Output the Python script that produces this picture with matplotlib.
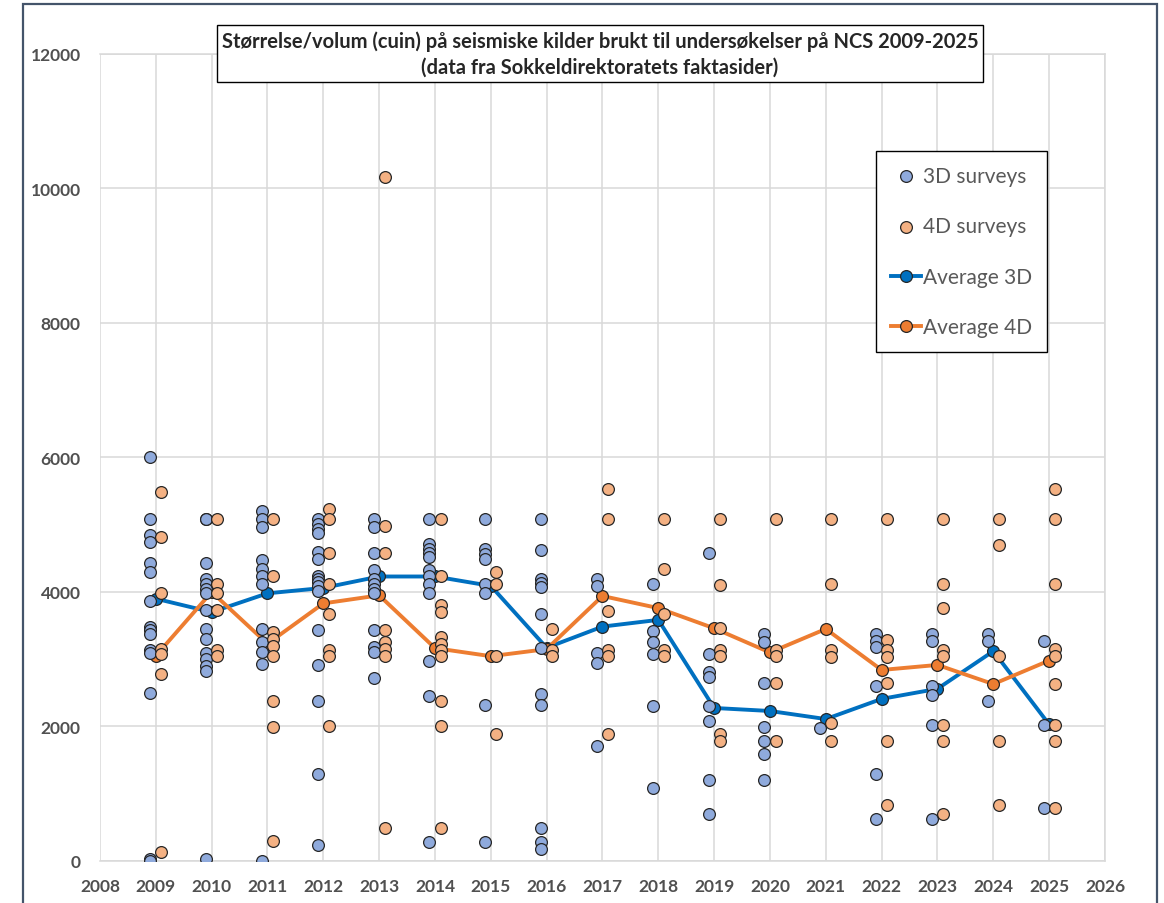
import numpy as np
import matplotlib.pyplot as plt
from matplotlib.patches import Rectangle

# -----------------------------------------------------------------------------
# data (cuin)

years = list(range(2009, 2026))

vol_3d = [
	[6000, 5080, 4840, 4740, 4430, 4300, 3860, 3480, 3430, 3380, 3140, 3090, 2500, 30, 0],        # 2009
	[5080, 5080, 4430, 4190, 4120, 4045, 3985, 3730, 3450, 3300, 3090, 3000, 2900, 2820, 30],    # 2010
	[5210, 5085, 4960, 4470, 4340, 4240, 4120, 3450, 3250, 3100, 2930, 0],                       # 2011
	[5085, 5010, 4940, 4870, 4590, 4490, 4240, 4190, 4145, 4095, 4020, 3440, 2920, 2385, 1295, 240],  # 2012
	[5085, 4960, 4580, 4330, 4190, 4120, 4045, 3985, 3440, 3180, 3100, 2720],                    # 2013
	[5085, 4715, 4640, 4575, 4515, 4330, 4240, 4120, 3985, 2980, 2460, 280],                     # 2014
	[5085, 4640, 4565, 4490, 4120, 3985, 2320, 280],                                             # 2015
	[5085, 4625, 4190, 4130, 4070, 3675, 3165, 2485, 2320, 490, 280, 180],                       # 2016
	[4190, 4095, 3090, 2945, 1705],                                                              # 2017
	[4120, 3415, 3250, 3080, 2310, 1080],                                                        # 2018
	[4580, 3080, 2815, 2730, 2310, 2080, 1200, 700],                                             # 2019
	[3375, 3260, 2640, 1990, 1790, 1590, 1200],                                                  # 2020
	[1980],                                                                                      # 2021
	[3375, 3275, 3180, 2605, 1295, 625],                                                         # 2022
	[3375, 3265, 2605, 2475, 2025, 625],                                                         # 2023
	[3375, 3265, 2385],                                                                          # 2024
	[3265, 2025, 790],                                                                           # 2025
]

vol_4d = [
	[5480, 4810, 3980, 3150, 3080, 2780, 140],                  # 2009
	[5080, 4120, 3980, 3730, 3140, 3050],                       # 2010
	[5080, 4230, 3400, 3300, 3200, 3045, 2385, 1990, 300],      # 2011
	[5235, 5080, 4580, 4120, 3675, 3140, 3045, 2000],           # 2012
	[10170, 4985, 4580, 3440, 3250, 3150, 3045, 490],           # 2013
	[5080, 4230, 3800, 3700, 3325, 3225, 3130, 3045, 2385, 2000, 490],  # 2014
	[4295, 4120, 3045, 1890],                                   # 2015
	[3450, 3140, 3045],                                         # 2016
	[5530, 5080, 3710, 3140, 3045, 1890],                       # 2017
	[5080, 4340, 3675, 3140, 3045],                             # 2018
	[5080, 4110, 3460, 3140, 3045, 1890, 1780],                 # 2019
	[5080, 3140, 3045, 2640, 1780],                             # 2020
	[5080, 4120, 3140, 3030, 2045, 1780],                       # 2021
	[5080, 3285, 3130, 3030, 2640, 1780, 835],                  # 2022
	[5080, 4120, 3760, 3140, 3045, 2025, 1780, 700],            # 2023
	[5080, 4700, 3045, 1780, 835],                              # 2024
	[5530, 5080, 4120, 3150, 3045, 2630, 2025, 1780, 790],      # 2025
]

avg_3d = [3900, 3700, 3980, 4060, 4230, 4230, 4090, 3170, 3485, 3585,
          2275, 2230, 2110, 2410, 2560, 3120, 2030]
avg_4d = [3050, 4000, 3230, 3830, 3950, 3165, 3045, 3150, 3940, 3760,
          3460, 3100, 3450, 2840, 2915, 2630, 2980]

title = ("Størrelse/volum (cuin) på seismiske kilder brukt til undersøkelser på NCS 2009-2025\n"
         "(data fra Sokkeldirektoratets faktasider)")

# -----------------------------------------------------------------------------
# flatten scatter data, 3D shifted a bit left, 4D a bit right

x3, y3, x4, y4 = [], [], [], []
for yr, v3, v4 in zip(years, vol_3d, vol_4d):
	x3 += [yr - 0.1] * len(v3)
	y3 += v3
	x4 += [yr + 0.1] * len(v4)
	y4 += v4

# -----------------------------------------------------------------------------
# plot

plt.rcParams['font.family'] = ['Lato', 'DejaVu Sans']

fig = plt.figure(figsize=(11.64, 9.04), dpi=100)
ax = fig.add_axes([0.0859, 0.0465, 0.8634, 0.8927])

edge = '#262626'
ax.plot(years, avg_3d, color='#0070c0', lw=2.8, marker='o', ms=8.5,
        mfc='#0070c0', mec=edge, mew=0.9, zorder=3, label='Average 3D')
ax.plot(years, avg_4d, color='#ed7d31', lw=2.8, marker='o', ms=8.5,
        mfc='#ed7d31', mec=edge, mew=0.9, zorder=3, label='Average 4D')
s1 = ax.scatter(x3, y3, s=72, color='#8faadc', edgecolors=edge, linewidths=0.9,
                zorder=4, label='3D surveys')
s2 = ax.scatter(x4, y4, s=72, color='#f4b183', edgecolors=edge, linewidths=0.9,
                zorder=4, label='4D surveys')

ax.set_xlim(2008, 2026)
ax.set_ylim(0, 12000)
ax.set_xticks(range(2008, 2027))
ax.set_yticks(range(0, 12001, 2000))
ax.grid(True, color='#d9d9d9', lw=1.1)
ax.set_axisbelow(True)
for sp in ax.spines.values():
	sp.set_color('#d9d9d9')
	sp.set_linewidth(1.1)
ax.spines['left'].set_visible(False)
ax.tick_params(length=0, labelsize=12.5, labelcolor='#505050')
ax.tick_params(axis='y', pad=14)
ax.tick_params(axis='x', pad=12)
for lab in ax.get_xticklabels() + ax.get_yticklabels():
	lab.set_fontweight('bold')

h, l = ax.get_legend_handles_labels()
order = [2, 3, 0, 1]
leg = fig.legend([h[i] for i in order], [l[i] for i in order],
                 loc='upper left', bbox_to_anchor=(0.7526, 0.8319),
                 fontsize=15, labelcolor='#595959', frameon=True, fancybox=False,
                 edgecolor='black', framealpha=1, labelspacing=1.47,
                 handlelength=1.45, handletextpad=0.1, borderpad=0.7,
                 borderaxespad=0)
leg.get_frame().set_linewidth(1.0)

fig.text(0.5155, 0.9397, title, ha='center', va='center', fontsize=14.5,
         fontweight='bold', color='#262626', linespacing=1.4,
         bbox=dict(boxstyle='square,pad=0.25', fc='white', ec='black', lw=1.0))

# outer chart border
fig.patches.append(Rectangle((0.0198, -0.05), 0.9742, 1.0445, transform=fig.transFigure,
                             fill=False, ec='#44546a', lw=1.6))

fig.savefig('out.png', dpi=100)
